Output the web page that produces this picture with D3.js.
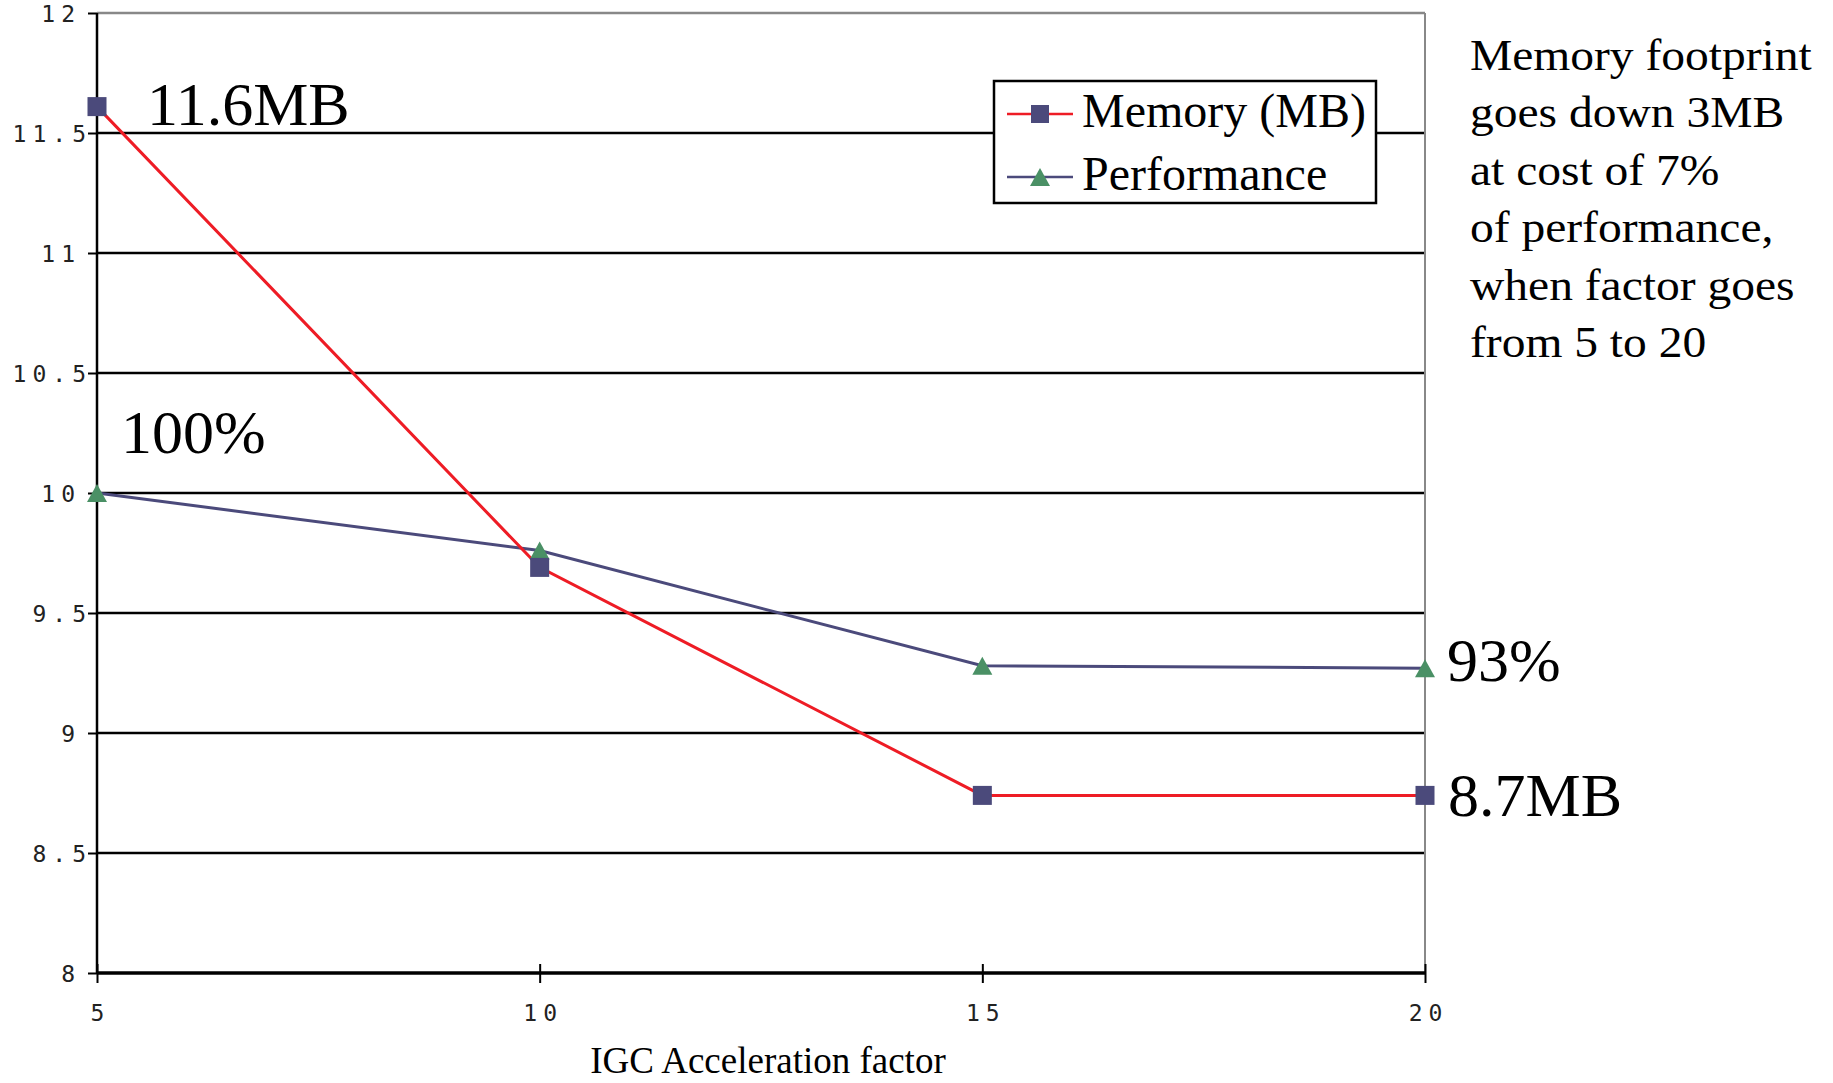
<!DOCTYPE html>
<html>
<head>
<meta charset="utf-8">
<script src="https://cdn.jsdelivr.net/npm/d3@7"></script>
<style>
  body { margin: 0; background: #fff; }
  svg { display: block; }
  .tick-label { font-family: "DejaVu Sans Mono", monospace; font-size: 23px; fill: #222; letter-spacing: 6px; }
  .serif { font-family: "Liberation Serif", "Times New Roman", serif; fill: #000; }
</style>
</head>
<body>
<svg id="chart" width="1833" height="1083"></svg>
<script>
// data
const factors = [5, 10, 15, 20];
const memoryMB = [11.61, 9.69, 8.74, 8.74];
const performance = [10.0, 9.76, 9.28, 9.27];
const xTicks = [5, 10, 15, 20];
const yTicks = [8, 8.5, 9, 9.5, 10, 10.5, 11, 11.5, 12];
const noteLines = ['Memory footprint', 'goes down 3MB', 'at cost of 7%', 'of performance,', 'when factor goes', 'from 5 to 20'];

const svg = d3.select('#chart');
const x = d3.scaleLinear().domain([5, 20]).range([97, 1425]);
const y = d3.scaleLinear().domain([8, 12]).range([973, 13]);

// gridlines
svg.append('g').selectAll('line')
  .data(yTicks.filter(v => v > 8))
  .join('line')
  .attr('x1', x(5)).attr('x2', x(20))
  .attr('y1', d => y(d)).attr('y2', d => y(d))
  .attr('stroke', d => d === 12 ? '#888' : '#000')
  .attr('stroke-width', 2.5);

// right border
svg.append('line')
  .attr('x1', x(20)).attr('x2', x(20)).attr('y1', y(12)).attr('y2', y(8))
  .attr('stroke', '#888').attr('stroke-width', 2);

// y axis - whole numbers sit a bit further left than the .5 ones
const yAxis = svg.append('g')
  .attr('transform', `translate(${x(5)},0)`)
  .call(d3.axisLeft(y).tickValues(yTicks).tickSize(9).tickPadding(6).tickFormat(d => String(d)));
yAxis.select('.domain').attr('stroke', '#000').attr('stroke-width', 2.5).attr('d', `M0,${y(12)}V${y(8)}`);
yAxis.selectAll('.tick line').attr('stroke', '#000').attr('stroke-width', 2);
yAxis.selectAll('.tick text').attr('class', 'tick-label').attr('font-size', null).attr('font-family', null)
  .attr('dy', '0.36em').attr('dx', d => Number.isInteger(d) ? '-1px' : '10px');

// x axis
const xAxis = svg.append('g')
  .attr('transform', `translate(0,${y(8)})`)
  .call(d3.axisBottom(x).tickValues(xTicks).tickSize(10).tickPadding(22).tickFormat(d => String(d)));
xAxis.select('.domain').attr('stroke', '#000').attr('stroke-width', 3.5).attr('d', `M${x(5)},0H${x(20)}`);
xAxis.selectAll('.tick line').attr('stroke', '#000').attr('stroke-width', 2).attr('y1', -9);
xAxis.selectAll('.tick text').attr('class', 'tick-label').attr('font-size', null).attr('font-family', null)
  .attr('dx', '3px');

svg.append('text').attr('class', 'serif')
  .attr('x', 768).attr('y', 1073).attr('text-anchor', 'middle')
  .attr('font-size', 37).text('IGC Acceleration factor');

// lines
const line = d3.line().x((d, i) => x(factors[i])).y(d => y(d));
svg.append('path').datum(performance).attr('d', line)
  .attr('fill', 'none').attr('stroke', '#4b4a7b').attr('stroke-width', 3);
svg.append('path').datum(memoryMB).attr('d', line)
  .attr('fill', 'none').attr('stroke', '#ee1c25').attr('stroke-width', 3);

// markers
const tri = 'M0,-9L10,9L-10,9Z';
svg.append('g').selectAll('path')
  .data(performance)
  .join('path')
  .attr('d', tri)
  .attr('transform', (d, i) => `translate(${x(factors[i])},${y(d)})`)
  .attr('fill', '#4a9065');
svg.append('g').selectAll('rect')
  .data(memoryMB)
  .join('rect')
  .attr('x', (d, i) => x(factors[i]) - 9.5).attr('y', d => y(d) - 9.5)
  .attr('width', 19).attr('height', 19)
  .attr('fill', '#4b4a7b');

// value labels
const labels = [
  { t: '11.6MB', x: 147, y: 125 },
  { t: '100%', x: 121, y: 453 },
  { t: '93%', x: 1447, y: 681 },
  { t: '8.7MB', x: 1448, y: 816 }
];
svg.append('g').selectAll('text')
  .data(labels)
  .join('text')
  .attr('class', 'serif')
  .attr('x', d => d.x).attr('y', d => d.y)
  .attr('font-size', 62)
  .text(d => d.t);

// legend
const legend = svg.append('g');
legend.append('rect')
  .attr('x', 994).attr('y', 81).attr('width', 382).attr('height', 122)
  .attr('fill', '#fff').attr('stroke', '#000').attr('stroke-width', 2.5);
const rows = [
  { name: 'Memory (MB)', stroke: '#ee1c25', marker: 'square', cy: 114 },
  { name: 'Performance', stroke: '#4b4a7b', marker: 'triangle', cy: 177 }
];
rows.forEach(r => {
  legend.append('line').attr('x1', 1007).attr('x2', 1073).attr('y1', r.cy).attr('y2', r.cy)
    .attr('stroke', r.stroke).attr('stroke-width', 2.5);
  if (r.marker === 'square') {
    legend.append('rect').attr('x', 1031).attr('y', r.cy - 9).attr('width', 18).attr('height', 18).attr('fill', '#4b4a7b');
  } else {
    legend.append('path').attr('d', tri).attr('transform', `translate(1040,${r.cy})`).attr('fill', '#4a9065');
  }
  legend.append('text').attr('class', 'serif')
    .attr('x', 1082).attr('y', r.cy + 13).attr('font-size', 48).text(r.name);
});

// annotation
const note = svg.append('g').attr('transform', 'translate(1470,0) scale(1.08,1)');
note.selectAll('text')
  .data(noteLines)
  .join('text')
  .attr('class', 'serif')
  .attr('x', 0).attr('y', (d, i) => 70 + i * 57.4)
  .attr('font-size', 44)
  .text(d => d);
</script>
</body>
</html>
